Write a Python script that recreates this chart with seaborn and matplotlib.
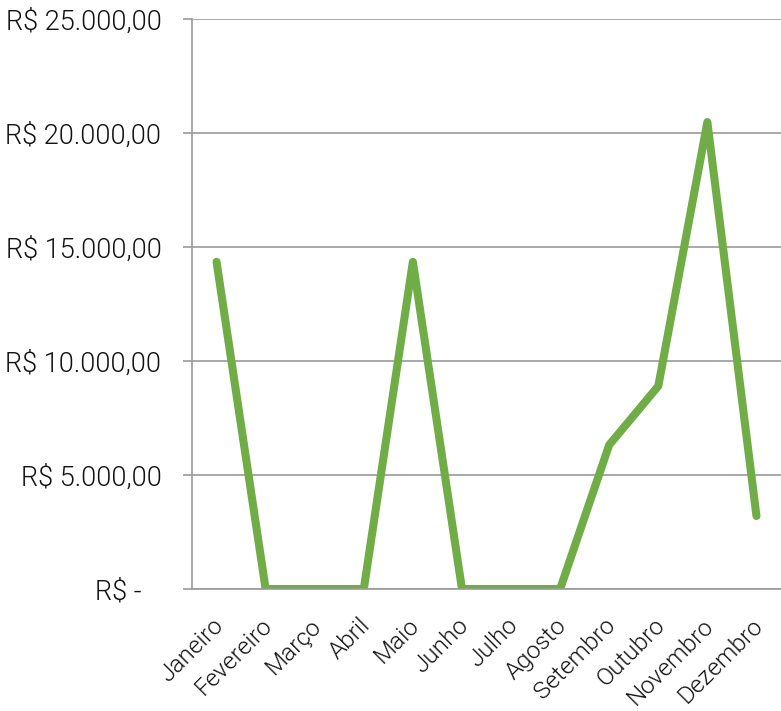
import numpy as np
import pandas as pd
import matplotlib
matplotlib.use('Agg')
import matplotlib.pyplot as plt
import matplotlib.transforms as mtransforms
from matplotlib.ticker import FuncFormatter, MultipleLocator, FixedLocator
import seaborn as sns

meses = ['Janeiro', 'Fevereiro', 'Março', 'Abril', 'Maio', 'Junho',
         'Julho', 'Agosto', 'Setembro', 'Outubro', 'Novembro', 'Dezembro']
valores = [14350, 0, 0, 0, 14350, 0, 0, 0, 6320, 8900, 20480, 3200]

sns.set_style('white')
plt.rcParams['font.family'] = ['Roboto', 'DejaVu Sans']
plt.rcParams['font.weight'] = 300

df = pd.DataFrame({'mes': meses, 'valor': valores})

fig = plt.figure(figsize=(7.81, 7.11), dpi=100)
ax = fig.add_axes([192 / 781, 1 - 589 / 711, 1 - 192 / 781, (589 - 19) / 711])

sns.lineplot(data=df, x='mes', y='valor', ax=ax, color='#70AD47',
             linewidth=5.8, solid_joinstyle='round', solid_capstyle='round', sort=False)

ax.set_xlim(-0.5, len(meses) - 0.5)
ax.set_ylim(0, 25000)
ax.yaxis.set_major_locator(MultipleLocator(5000))


def brl(v, pos):
    if v == 0:
        return 'R$ -   '
    s = f'{v:,.2f}'.replace(',', 'X').replace('.', ',').replace('X', '.')
    return 'R$ ' + s


ax.yaxis.set_major_formatter(FuncFormatter(brl))
ax.grid(axis='y', color='#9a9a9a', linewidth=1.2)
ax.set_axisbelow(True)

for s in ['top', 'right']:
    ax.spines[s].set_visible(False)
for s in ['left', 'bottom']:
    ax.spines[s].set_color('#9a9a9a')
    ax.spines[s].set_linewidth(1.2)

ax.set_xticks(range(len(meses)))
ax.set_xticklabels(meses, rotation=45, ha='right', rotation_mode='anchor')
ax.xaxis.set_minor_locator(FixedLocator(np.arange(-0.5, len(meses), 1.0)))
ax.tick_params(axis='x', which='major', length=0, pad=18, labelsize=17.5, labelcolor='#111111')
ax.tick_params(axis='x', which='minor', length=6.5, width=1.2, color='#9a9a9a')
ax.tick_params(axis='y', length=6.5, width=1.2, color='#9a9a9a', pad=15.5,
               labelsize=19.5, labelcolor='#111111', left=True)

# desloca rótulos do eixo x um pouco para a esquerda
offset = mtransforms.ScaledTranslation(-5 / 100, 0, fig.dpi_scale_trans)
for lbl in ax.get_xticklabels():
    lbl.set_transform(lbl.get_transform() + offset)

ax.set_xlabel('')
ax.set_ylabel('')

plt.savefig('out.png', dpi=100)
